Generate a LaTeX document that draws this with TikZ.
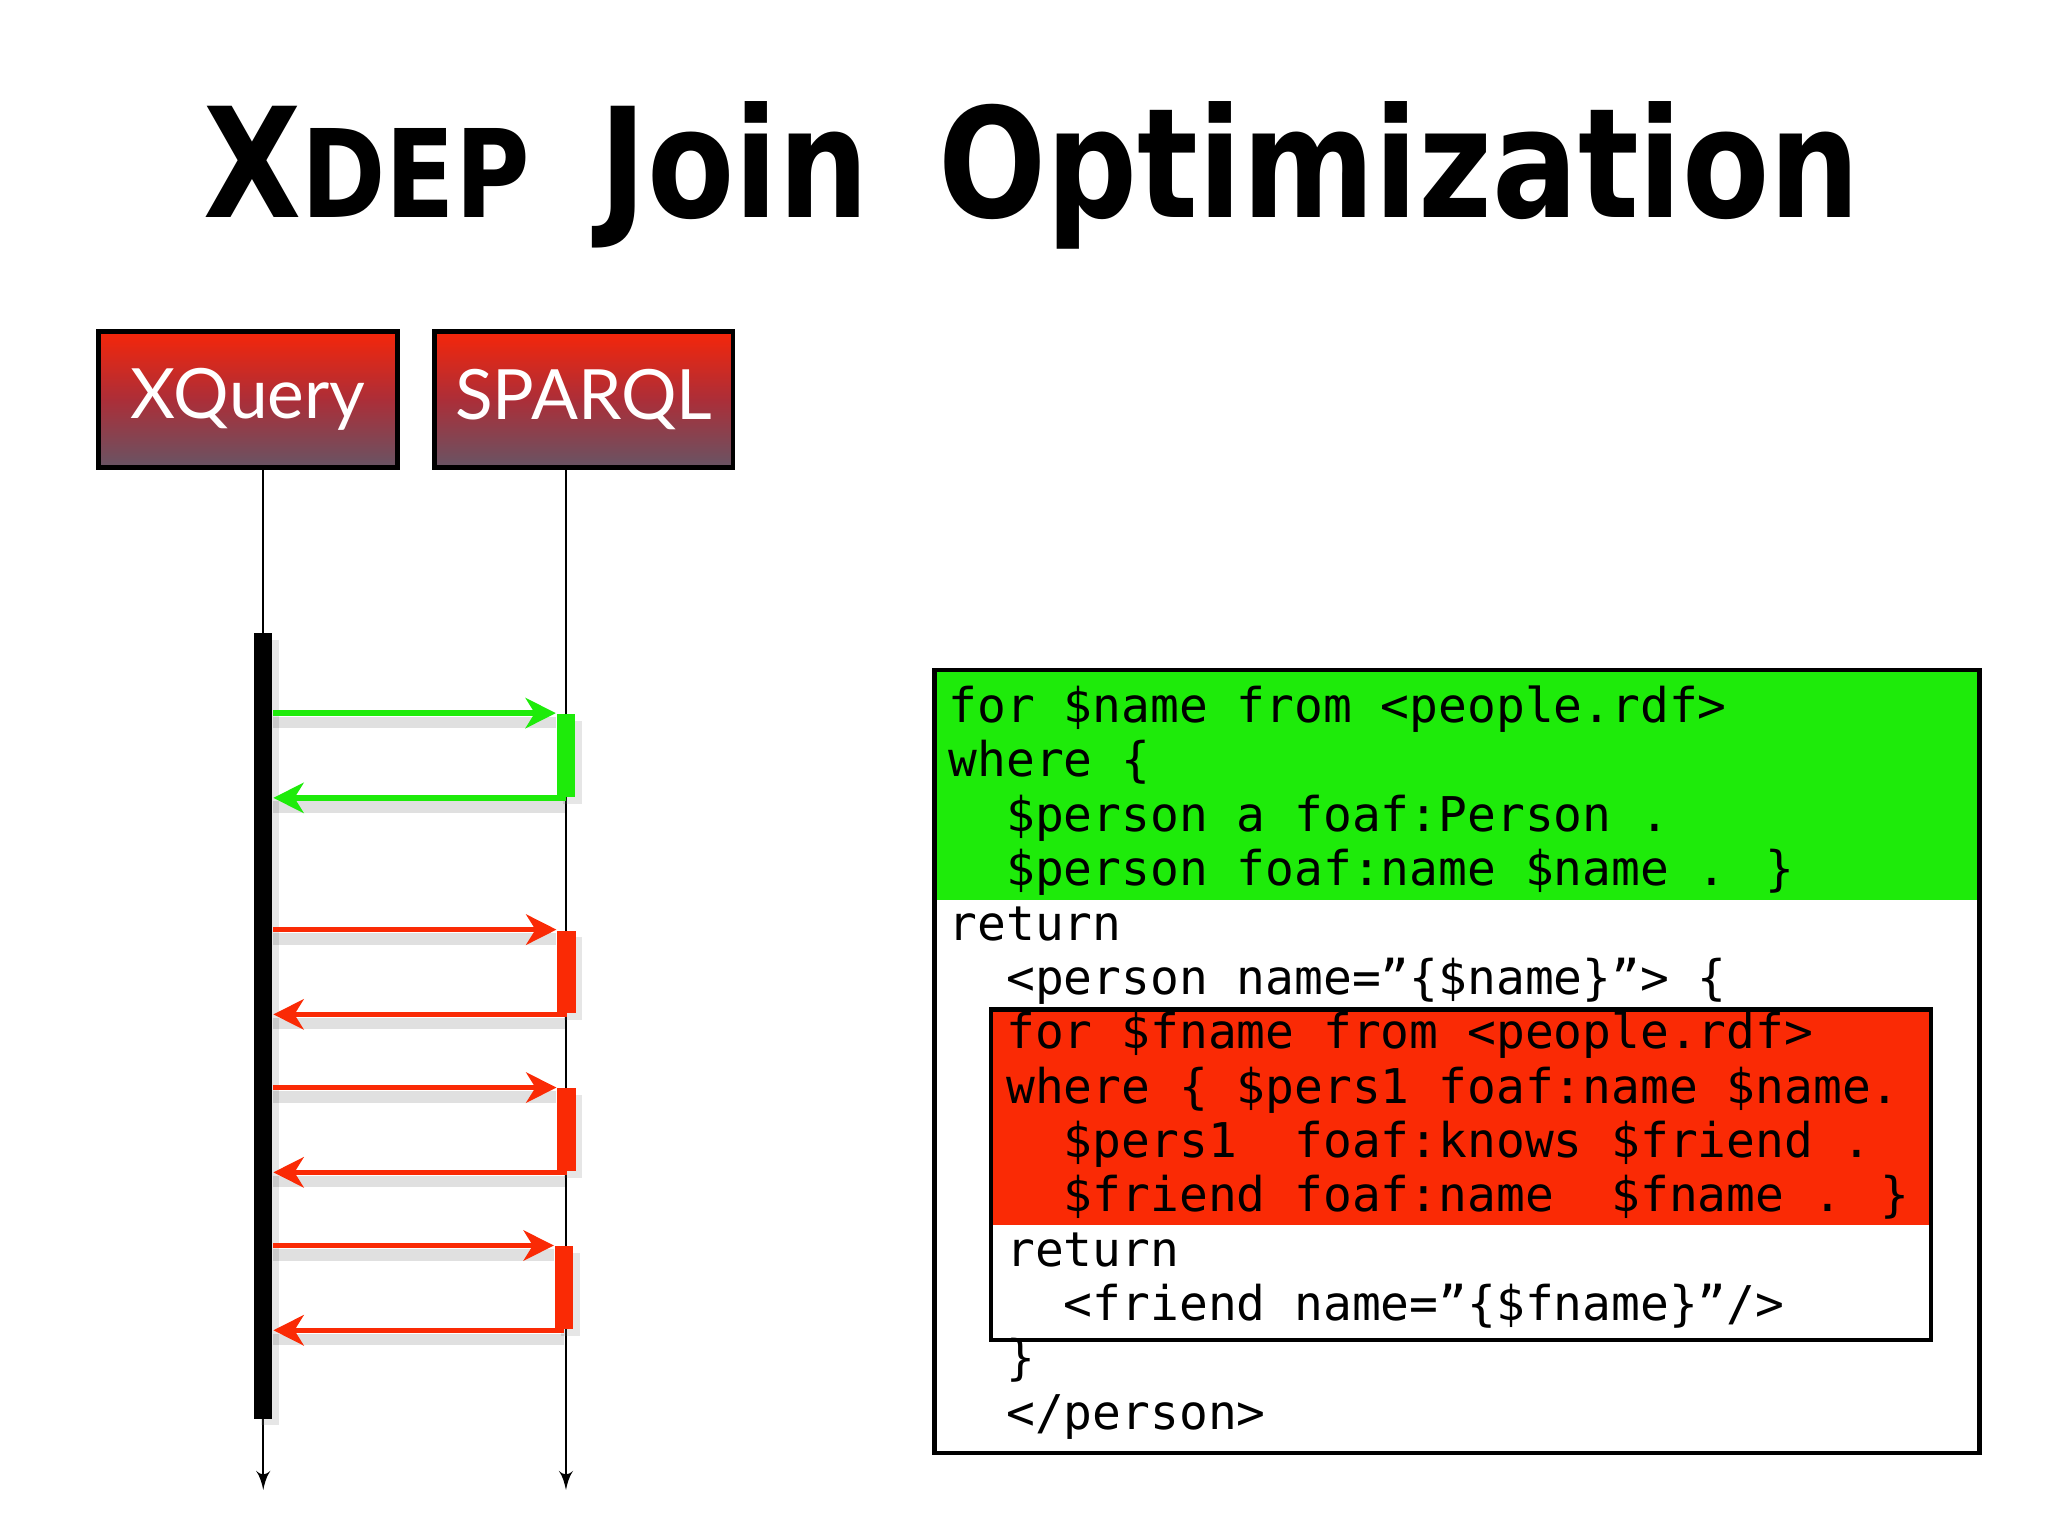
\documentclass[tikz,border=0pt]{standalone}
\usepackage{fontspec}
\usepackage{graphicx}
\setmainfont{DejaVu Sans}
\newfontfamily\titlefont{DejaVu Sans}
\newfontfamily\langfont{Lato}
\newfontfamily\codefont{DejaVu Sans Mono}
\usetikzlibrary{arrows,arrows.meta,shadows}

\definecolor{codegreen}{RGB}{30,235,10}
\definecolor{codered}{RGB}{250,42,5}
\definecolor{langtop}{RGB}{245,38,10}
\definecolor{langmid}{RGB}{172,46,56}
\definecolor{langbot}{RGB}{104,84,100}

\begin{document}
\begin{tikzpicture}
\tikzset{lang/.style = {draw, line width=1pt, minimum width=2.27cm, minimum height=1.03cm,
  top color=langtop, bottom color=langbot, middle color=langmid,
  text=white, font=\langfont\fontsize{15pt}{15pt}\selectfont}}
\tikzset{life/.style = {->, > = latex', line width=0.45pt}}
\tikzset{bar/.style = {inner sep=0, minimum width=0.14cm,
  drop shadow={opacity=0.2, shadow xshift=0.5mm, shadow yshift=-0.5mm}}}
\tikzset{msg/.style = {line width=1.2pt, ->, > = {Stealth[length=2.3mm, width=2.3mm, inset=0.7mm]},
  preaction={draw, -, black, opacity=0.12, line width=2.5pt, transform canvas={yshift=-0.7mm}}}}
\tikzset{codeline/.style = {inner sep=0, anchor=base west, font=\codefont\fontsize{10.35pt}{12pt}\selectfont}}
\useasboundingbox (0,0) rectangle (15.56,-11.67);

\node[anchor=base, font=\titlefont\bfseries\fontsize{27.5pt}{30pt}\selectfont] (title) at (7.84,-1.65)
  {\scalebox{1}[1.2]{X{\fontsize{22pt}{22pt}\selectfont DEP}\hspace{0.2em} Join\hspace{0.2em} Optimization}};

\node[lang] (xq) at (1.885,-3.035) {XQuery};
\node[lang] (sq) at (4.435,-3.035) {SPARQL};

\coordinate (xqtop) at (2.00,-3.55);
\coordinate (xqend) at (2.00,-11.32);
\coordinate (sqtop) at (4.30,-3.55);
\coordinate (sqend) at (4.30,-11.32);
\draw[life] (xqtop) -- (xqend);
\draw[life] (sqtop) -- (sqend);

\node[bar, fill=black, minimum height=5.97cm] (xqbar) at (2.00,-7.795) {};
\foreach \name/\x/\y/\col in {g/4.30/5.74/codegreen, r1/4.305/7.385/codered, r2/4.305/8.585/codered, r3/4.285/9.785/codered}
\node[bar, fill=\col, minimum height=0.63cm] (\name) at (\x,-\y) {};

\foreach \name/\col in {g/codegreen, r1/codered, r2/codered, r3/codered}{
\draw[msg, \col] (xqbar.east |- \name.north) -- (\name.north west);
\draw[msg, \col] (\name.south) -- (xqbar.east |- \name.south);
}

% query text
\fill[codegreen] (7.10,-5.09) rectangle (15.04,-6.835);
\fill[codered] (7.53,-7.67) rectangle (14.67,-9.31);
\node[draw, line width=1pt, minimum width=7.94cm, minimum height=5.95cm, inner sep=0] (code) at (11.07,-8.065) {};
\node[draw, line width=1pt, minimum width=7.14cm, minimum height=2.51cm, inner sep=0] (inner) at (11.10,-8.925) {};
\foreach \n/\ind/\txt in {1/0/{for \$name from <people.rdf>}, 2/0/{where \{},
  3/2/{\$person a foaf:Person .}, 4/2/{\$person foaf:name \$name . \}},
  5/0/{return}, 6/2/{<person name=”\{\$name\}”> \{},
  7/2/{for \$fname from <people.rdf>}, 8/2/{where \{ \$pers1 foaf:name \$name.},
  9/4/{\$pers1 \ foaf:knows \$friend .}, 10/4/{\$friend foaf:name \ \$fname . \}},
  11/2/{return}, 12/4/{<friend name=”\{\$fname\}”/>},
  13/2/{\}}, 14/2/{</person>}}
\node[codeline] (l\n) at ({7.20+0.219*\ind},{-5.49-0.413*(\n-1)}) {\txt};
\end{tikzpicture}
\end{document}
